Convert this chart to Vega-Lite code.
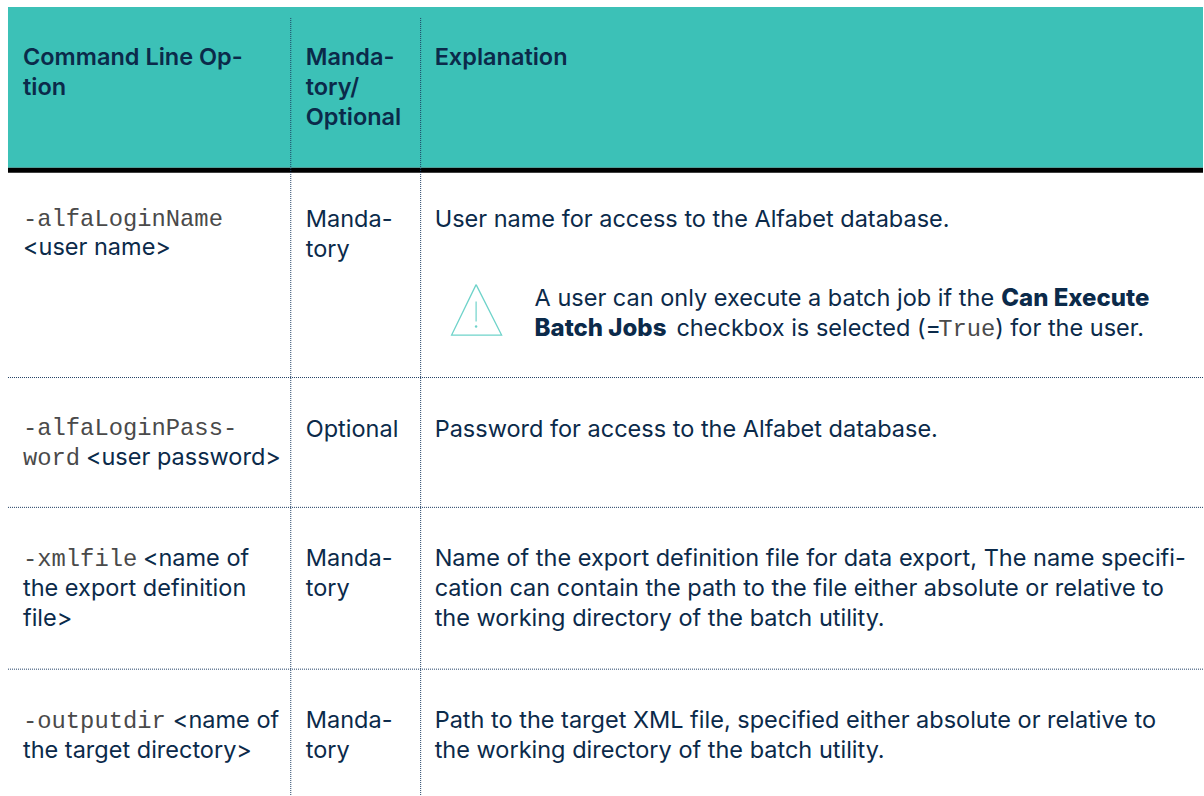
{"$schema":"https://vega.github.io/schema/vega-lite/v6.json","autosize":{"type":"fit","contains":"padding"},"width":1204,"height":796,"padding":0,"background":"white","view":{"stroke":null},
"datasets":{
"bands":[{"part":"header","x":8,"x2":1204,"y":7,"y2":168},{"part":"rule","x":8,"x2":1204,"y":168,"y2":173}],
"gridV":[{"x":291,"y":18,"y2":796},{"x":421,"y":18,"y2":796}],
"gridH":[{"y":378,"x":8,"x2":1204},{"y":508,"x":8,"x2":1204},{"y":670,"x":8,"x2":1204}],
"tri":[{"x":476.5,"y":285,"o":1},{"x":452,"y":335.5,"o":2},{"x":502,"y":335.5,"o":3},{"x":476.5,"y":285,"o":4}],
"bang":[{"x":476.5,"y":302,"y2":322}],
"dot":[{"x":476.5,"y":327}],
"text":[
{"k":"head","x":23,"y":65,"t":"Command Line Op-"},{"k":"head","x":23,"y":95,"t":"tion"},
{"k":"head","x":306,"y":65,"t":"Manda-"},{"k":"head","x":306,"y":95,"t":"tory/"},{"k":"head","x":306,"y":125,"t":"Optional"},
{"k":"head","x":435,"y":65,"t":"Explanation"},
{"k":"mono","x":23,"y":226,"t":"-alfaLoginName"},{"k":"body","x":23,"y":255,"t":"<user name>"},
{"k":"body","x":306,"y":227,"t":"Manda-"},{"k":"body","x":306,"y":257,"t":"tory"},
{"k":"body","x":435,"y":227,"t":"User name for access to the Alfabet database."},
{"k":"body","x":535,"y":306,"t":"A user can only execute a batch job if the"},{"k":"bold","x":1002,"y":306,"t":"Can Execute"},
{"k":"bold","x":535,"y":336,"t":"Batch Jobs"},{"k":"body","x":677,"y":336,"t":"checkbox is selected (="},{"k":"mono","x":939,"y":336,"t":"True"},{"k":"body","x":996,"y":336,"t":") for the user."},
{"k":"mono","x":23,"y":436,"t":"-alfaLoginPass-"},{"k":"mono","x":23,"y":466,"t":"word"},{"k":"body","x":86,"y":466,"t":"<user password>"},
{"k":"body","x":306,"y":438,"t":"Optional"},{"k":"body","x":435,"y":438,"t":"Password for access to the Alfabet database."},
{"k":"mono","x":23,"y":567,"t":"-xmlfile"},{"k":"body","x":143,"y":567,"t":"<name of"},{"k":"body","x":23,"y":597,"t":"the export definition"},{"k":"body","x":23,"y":627,"t":"file>"},
{"k":"body","x":306,"y":567,"t":"Manda-"},{"k":"body","x":306,"y":597,"t":"tory"},
{"k":"body","x":435,"y":567,"t":"Name of the export definition file for data export, The name specifi-"},{"k":"body","x":435,"y":597,"t":"cation can contain the path to the file either absolute or relative to"},{"k":"body","x":435,"y":627,"t":"the working directory of the batch utility."},
{"k":"mono","x":23,"y":729,"t":"-outputdir"},{"k":"body","x":173,"y":729,"t":"<name of"},{"k":"body","x":23,"y":759,"t":"the target directory>"},
{"k":"body","x":306,"y":729,"t":"Manda-"},{"k":"body","x":306,"y":759,"t":"tory"},
{"k":"body","x":435,"y":729,"t":"Path to the target XML file, specified either absolute or relative to"},{"k":"body","x":435,"y":759,"t":"the working directory of the batch utility."}
]},
"encoding":{
"x":{"field":"x","type":"quantitative","scale":{"domain":[0,1204],"nice":false,"zero":false},"axis":null},
"y":{"field":"y","type":"quantitative","scale":{"domain":[796,0],"nice":false,"zero":false},"axis":null}
},
"layer":[
{"data":{"name":"bands"},"mark":{"type":"rect"},"encoding":{"x2":{"field":"x2"},"y2":{"field":"y2"},"color":{"field":"part","type":"nominal","scale":{"domain":["header","rule"],"range":["#3cc1b7","#000000"]},"legend":null}}},
{"data":{"name":"gridV"},"mark":{"type":"rule","color":"#1f3f63","strokeDash":[1,1],"strokeWidth":1},"encoding":{"y2":{"field":"y2"}}},
{"data":{"name":"gridH"},"mark":{"type":"rule","color":"#1f3f63","strokeDash":[1,1],"strokeWidth":1},"encoding":{"x2":{"field":"x2"}}},
{"data":{"name":"tri"},"mark":{"type":"line","color":"#6fd3ca","strokeWidth":1.3},"encoding":{"order":{"field":"o"}}},
{"data":{"name":"bang"},"mark":{"type":"rule","color":"#6fd3ca","strokeWidth":1.2},"encoding":{"y2":{"field":"y2"}}},
{"data":{"name":"dot"},"mark":{"type":"point","filled":true,"color":"#6fd3ca","size":6,"opacity":1},"encoding":{}},
{"data":{"name":"text"},"transform":[{"filter":"datum.k=='head'"}],"mark":{"type":"text","align":"left","baseline":"alphabetic","font":"Inter","fontSize":23.5,"fontWeight":600,"color":"#0b2a4a"},"encoding":{"text":{"field":"t"}}},
{"data":{"name":"text"},"transform":[{"filter":"datum.k=='body'"}],"mark":{"type":"text","align":"left","baseline":"alphabetic","font":"Inter","fontSize":23.5,"fontWeight":400,"color":"#0b2a4a"},"encoding":{"text":{"field":"t"}}},
{"data":{"name":"text"},"transform":[{"filter":"datum.k=='bold'"}],"mark":{"type":"text","align":"left","baseline":"alphabetic","font":"Inter","fontSize":24,"fontWeight":800,"color":"#0b2a4a"},"encoding":{"text":{"field":"t"}}},
{"data":{"name":"text"},"transform":[{"filter":"datum.k=='mono'"}],"mark":{"type":"text","align":"left","baseline":"alphabetic","font":"Liberation Mono","fontSize":23.8,"color":"#4a4a4a"},"encoding":{"text":{"field":"t"}}}
]}
